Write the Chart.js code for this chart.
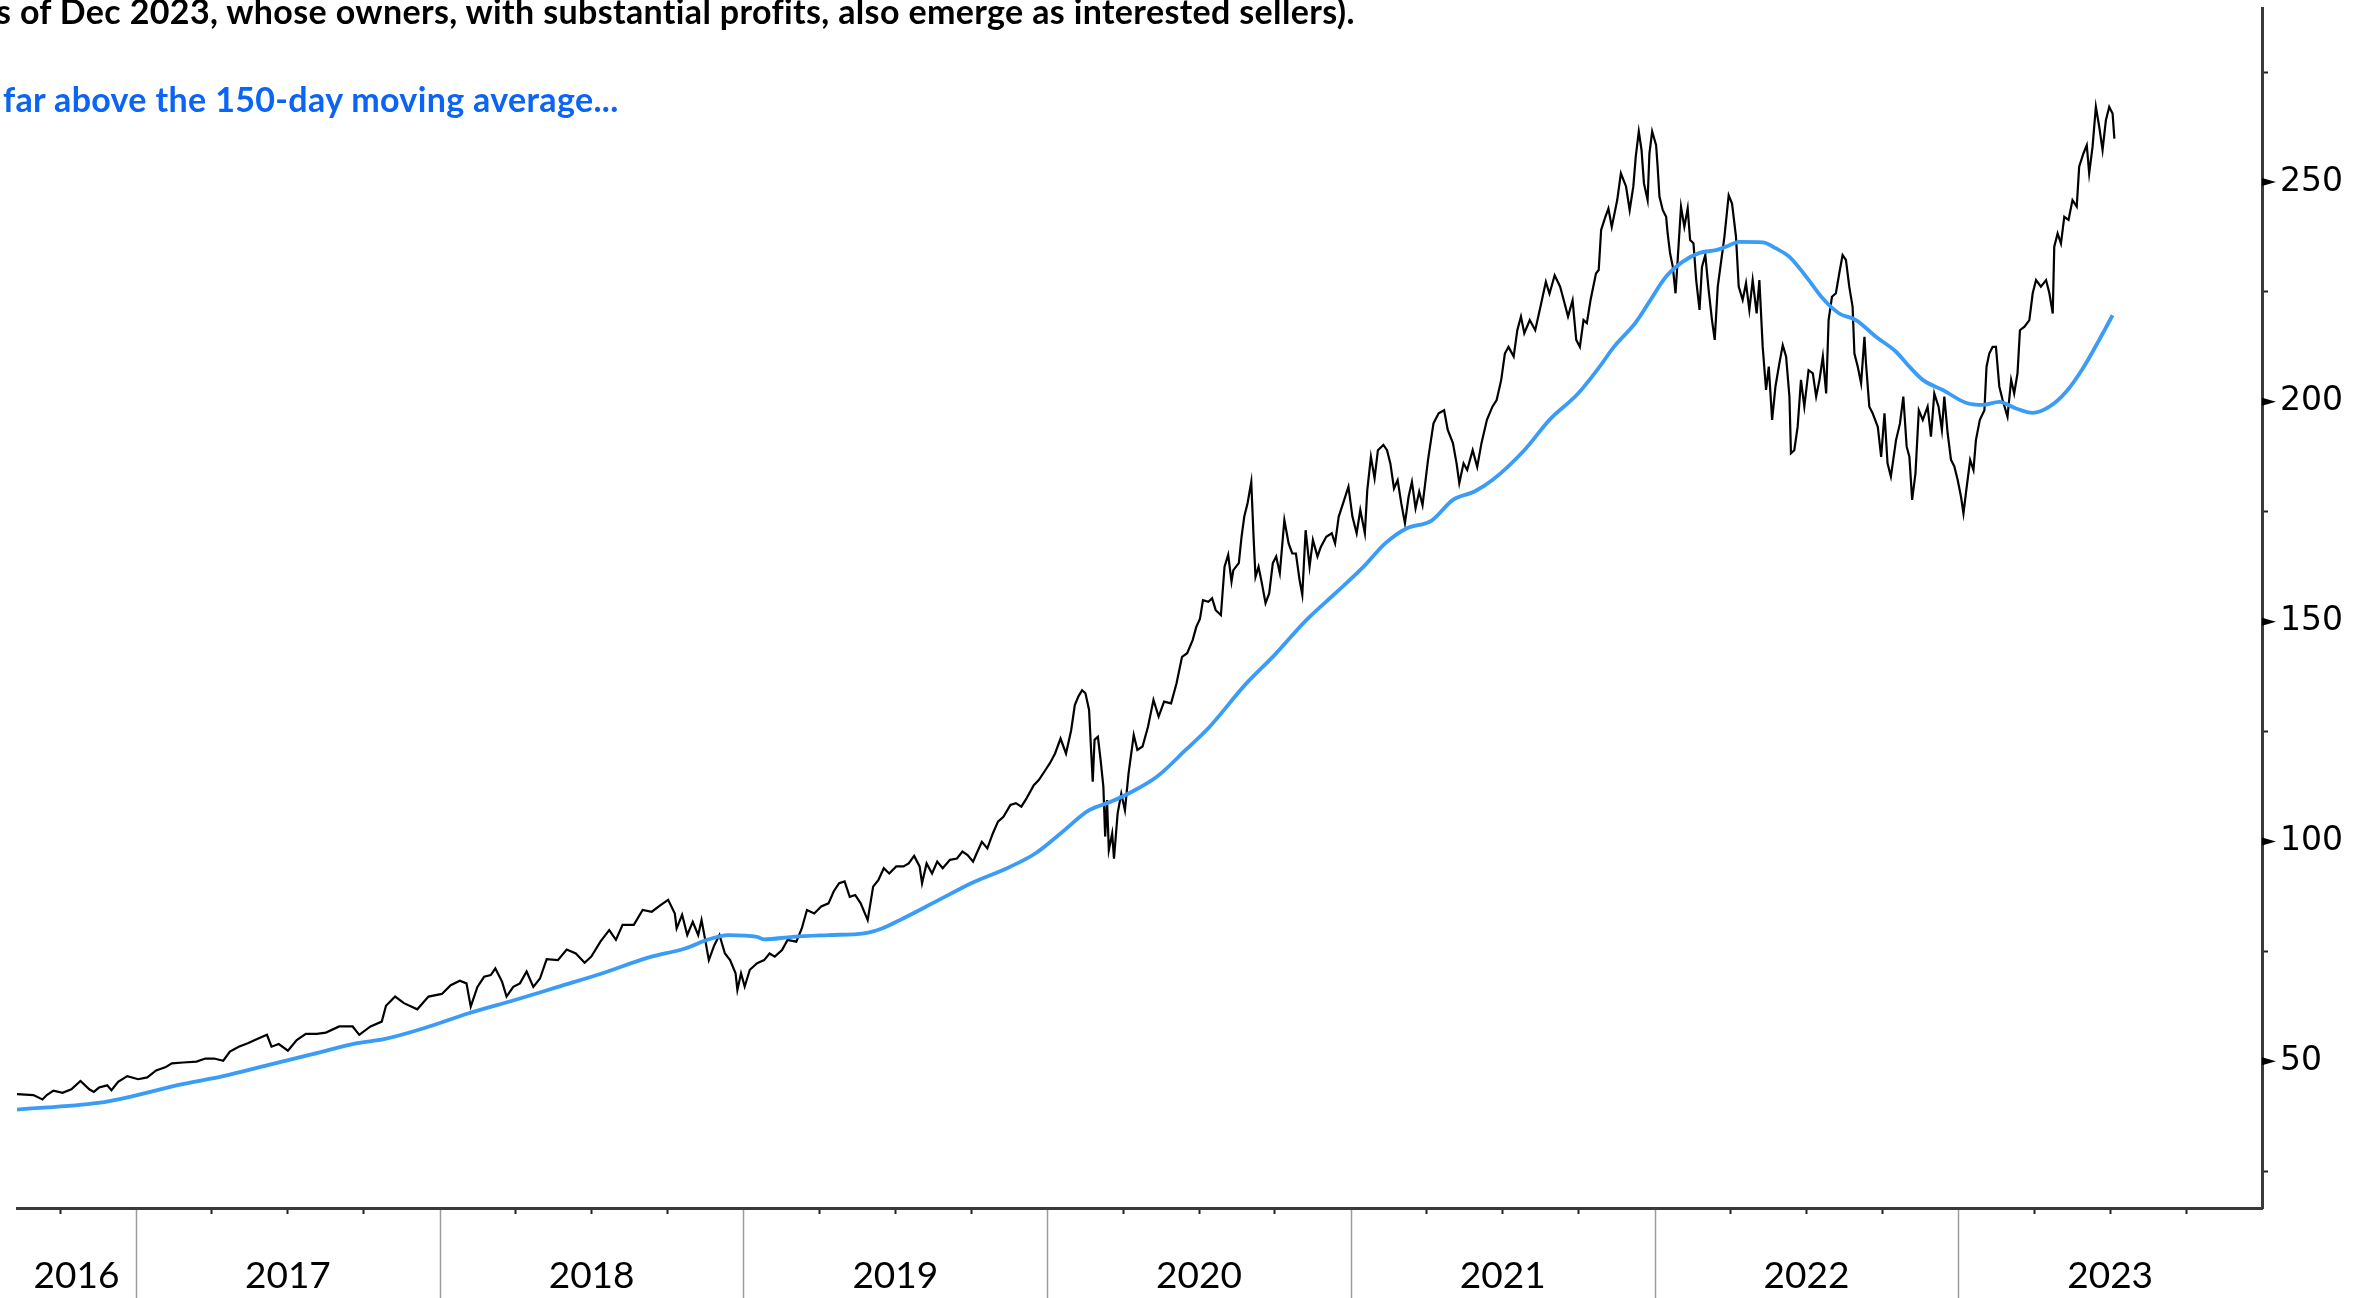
<!DOCTYPE html>
<html>
<head>
<meta charset="utf-8">
<script src="https://cdn.jsdelivr.net/npm/chart.js@4.4.0/dist/chart.umd.min.js"></script>
<style>
  html, body { margin: 0; padding: 0; background: #fff; }
  #wrap { position: relative; width: 2368px; height: 1298px; overflow: hidden; }
  #chart { position: absolute; left: 0; top: 0; }
  .note { position: absolute; font-family: Lato, sans-serif; font-weight: 700; font-size: 34px; letter-spacing: 0.35px; line-height: 1; white-space: nowrap; }
  #note1 { left: -4px; top: -6px; color: #000; }
  #note2 { left: 3px; top: 82px; color: #0a64f5; }
</style>
</head>
<body>
<div id="wrap">
  <canvas id="chart" width="2368" height="1298"></canvas>
  <div class="note" id="note1">s of Dec 2023, whose owners, with substantial profits, also emerge as interested sellers).</div>
  <div class="note" id="note2">far above the 150-day moving average...</div>
</div>
<script>
// dates are fractional years
const priceDates = [
  2016.608, 2016.662, 2016.692, 2016.706, 2016.728, 2016.758, 2016.787, 2016.817, 2016.846, 2016.861, 2016.878, 2016.905, 2016.919, 2016.941, 2016.971,
  2017.007, 2017.037, 2017.066, 2017.096, 2017.118, 2017.155, 2017.199, 2017.228, 2017.257, 2017.287, 2017.309, 2017.338, 2017.368, 2017.397, 2017.431,
  2017.446, 2017.470, 2017.500, 2017.529, 2017.559, 2017.595, 2017.625, 2017.669, 2017.713, 2017.735, 2017.772, 2017.809, 2017.823, 2017.853, 2017.882,
  2017.926, 2017.963,
  2018.007, 2018.036, 2018.066, 2018.088, 2018.102, 2018.124, 2018.146, 2018.168, 2018.183, 2018.205, 2018.220, 2018.242, 2018.264, 2018.286, 2018.308,
  2018.330, 2018.352, 2018.389, 2018.418, 2018.448, 2018.477, 2018.499, 2018.529, 2018.558, 2018.580, 2018.602, 2018.639, 2018.668, 2018.698, 2018.727,
  2018.752, 2018.774, 2018.780, 2018.798, 2018.815, 2018.833, 2018.851, 2018.862, 2018.874, 2018.886, 2018.904, 2018.921, 2018.939, 2018.956, 2018.974,
  2018.980, 2018.992,
  2019.004, 2019.021, 2019.045, 2019.068, 2019.086, 2019.103, 2019.127, 2019.145, 2019.174, 2019.192, 2019.209, 2019.233, 2019.256, 2019.280, 2019.297,
  2019.315, 2019.333, 2019.350, 2019.368, 2019.386, 2019.409, 2019.427, 2019.444, 2019.462, 2019.480, 2019.503, 2019.527, 2019.544, 2019.562, 2019.580,
  2019.588, 2019.603, 2019.621, 2019.638, 2019.656, 2019.680, 2019.703, 2019.721, 2019.738, 2019.756, 2019.768, 2019.785, 2019.803, 2019.821, 2019.838,
  2019.856, 2019.879, 2019.897, 2019.915, 2019.932, 2019.956, 2019.973, 2019.991,
  2020.009, 2020.026, 2020.044, 2020.062, 2020.079, 2020.091, 2020.103, 2020.115, 2020.126, 2020.138, 2020.144, 2020.150, 2020.156, 2020.167, 2020.176,
  2020.185, 2020.191, 2020.197, 2020.203, 2020.214, 2020.220, 2020.232, 2020.244, 2020.256, 2020.268, 2020.285, 2020.297, 2020.314, 2020.332, 2020.350,
  2020.367, 2020.385, 2020.408, 2020.426, 2020.444, 2020.461, 2020.479, 2020.491, 2020.503, 2020.513, 2020.531, 2020.543, 2020.555, 2020.572, 2020.584,
  2020.596, 2020.607, 2020.613, 2020.631, 2020.640, 2020.649, 2020.660, 2020.672, 2020.680, 2020.686, 2020.696, 2020.707, 2020.719, 2020.731, 2020.743,
  2020.754, 2020.766, 2020.781, 2020.795, 2020.807, 2020.819, 2020.831, 2020.840, 2020.851, 2020.864, 2020.875, 2020.890, 2020.901, 2020.919, 2020.937,
  2020.948, 2020.960, 2020.978, 2020.992,
  2021.005, 2021.019, 2021.031, 2021.046, 2021.054, 2021.066, 2021.078, 2021.089, 2021.107, 2021.119, 2021.130, 2021.142, 2021.154, 2021.166, 2021.178,
  2021.190, 2021.201, 2021.213, 2021.225, 2021.236, 2021.254, 2021.272, 2021.289, 2021.307, 2021.319, 2021.336, 2021.348, 2021.357, 2021.371, 2021.383,
  2021.401, 2021.416, 2021.430, 2021.448, 2021.466, 2021.480, 2021.495, 2021.507, 2021.519, 2021.536, 2021.548, 2021.560, 2021.571, 2021.589, 2021.607,
  2021.624, 2021.642, 2021.654, 2021.671, 2021.689, 2021.701, 2021.715, 2021.730, 2021.742, 2021.754, 2021.766, 2021.777, 2021.789, 2021.807, 2021.816,
  2021.824, 2021.836, 2021.848, 2021.859, 2021.877, 2021.889, 2021.906, 2021.918, 2021.930, 2021.938, 2021.948, 2021.957, 2021.965, 2021.977, 2021.983,
  2021.992,
  2022.005, 2022.010, 2022.016, 2022.027, 2022.038, 2022.043, 2022.051, 2022.060, 2022.069, 2022.076, 2022.087, 2022.098, 2022.109, 2022.117, 2022.128,
  2022.137, 2022.148, 2022.156, 2022.167, 2022.178, 2022.189, 2022.198, 2022.208, 2022.219, 2022.230, 2022.244, 2022.255, 2022.268, 2022.277, 2022.290,
  2022.301, 2022.312, 2022.323, 2022.336, 2022.345, 2022.356, 2022.367, 2022.376, 2022.387, 2022.398, 2022.411, 2022.422, 2022.433, 2022.444, 2022.449,
  2022.460, 2022.471, 2022.482, 2022.493, 2022.507, 2022.521, 2022.532, 2022.543, 2022.554, 2022.565, 2022.573, 2022.584, 2022.597, 2022.608, 2022.619,
  2022.630, 2022.641, 2022.652, 2022.658, 2022.669, 2022.680, 2022.691, 2022.696, 2022.707, 2022.718, 2022.735, 2022.746, 2022.757, 2022.767, 2022.778,
  2022.795, 2022.808, 2022.819, 2022.830, 2022.839, 2022.848, 2022.859, 2022.870, 2022.883, 2022.899, 2022.910, 2022.921, 2022.935, 2022.946, 2022.954,
  2022.965, 2022.976, 2022.987, 2022.998,
  2023.009, 2023.017, 2023.025, 2023.039, 2023.050, 2023.058, 2023.071, 2023.086, 2023.093, 2023.102, 2023.113, 2023.124, 2023.135, 2023.146, 2023.162,
  2023.174, 2023.184, 2023.195, 2023.203, 2023.218, 2023.234, 2023.245, 2023.256, 2023.272, 2023.289, 2023.300, 2023.311, 2023.316, 2023.327, 2023.338,
  2023.349, 2023.363, 2023.376, 2023.390, 2023.398, 2023.412, 2023.423, 2023.431, 2023.442, 2023.453, 2023.464, 2023.475, 2023.486, 2023.497, 2023.508,
  2023.514
];
const priceValues = [
  42.5, 42.3, 41.3, 42.3, 43.3, 42.8, 43.6, 45.5, 43.6, 43.0, 44.0, 44.5, 43.4, 45.3, 46.6,
  45.9, 46.3, 47.9, 48.6, 49.5, 49.7, 49.9, 50.6, 50.6, 50.1, 52.2, 53.3, 54.1, 55.0, 56.0,
  53.3, 53.9, 52.4, 54.8, 56.2, 56.2, 56.5, 57.9, 57.9, 56.0, 57.9, 59.0, 62.6, 64.7, 63.2,
  61.8, 64.7,
  65.3, 67.3, 68.3, 67.7, 62.4, 66.9, 69.2, 69.6, 71.1, 68.1, 64.7, 66.9, 67.7, 70.4, 66.9,
  68.8, 73.2, 73.0, 75.4, 74.5, 72.4, 73.8, 77.2, 79.8, 77.6, 81.0, 81.0, 84.4, 84.0, 85.5,
  86.7, 83.6, 80.2, 83.3, 78.7, 81.7, 78.7, 82.1, 77.6, 73.0, 76.4, 78.7, 74.5, 73.0, 70.0,
  66.2, 70.0,
  67.0, 70.8, 72.3, 73.0, 74.5, 73.8, 75.3, 77.6, 77.2, 80.2, 84.4, 83.6, 85.2, 85.9, 88.6,
  90.5, 90.9, 87.4, 87.8, 85.9, 82.1, 89.7, 91.2, 93.9, 92.7, 94.3, 94.3, 95.0, 96.7, 94.3,
  90.5, 95.0, 92.7, 95.4, 93.9, 95.8, 96.1, 97.7, 96.9, 95.4, 97.3, 99.9, 98.4, 101.8, 104.5,
  105.6, 108.3, 108.7, 107.9, 109.8, 112.8, 114.0, 115.9,
  117.8, 120.0, 123.4, 120.0, 125.3, 131.0, 133.0, 134.4, 133.7, 129.9, 121.6, 113.6, 123.1, 123.8, 118.5,
  112.5, 101.1, 109.4, 98.0, 101.8, 96.1, 106.4, 110.9, 107.1, 115.5, 124.2, 120.8, 121.6, 126.1, 132.2,
  128.4, 131.8, 131.4, 136.0, 142.0, 142.8, 145.8, 148.8, 150.6, 154.9, 154.5, 155.3, 152.6, 151.5, 162.5,
  165.2, 159.1, 161.7, 163.3, 169.3, 173.9, 177.0, 181.8, 168.6, 160.2, 162.5, 158.7, 154.2, 156.4, 163.3,
  164.8, 161.0, 173.1, 167.8, 165.5, 165.5, 159.5, 156.1, 170.8, 162.5, 168.6, 164.8, 167.0, 169.3, 170.1,
  167.8, 173.9, 177.7, 180.7,
  173.9, 170.1, 175.4, 170.1, 179.9, 187.5, 182.6, 189.0, 190.2, 189.0, 186.0, 180.3, 182.2, 176.9, 172.4,
  178.4, 181.8, 175.8, 179.6, 176.5, 186.8, 195.1, 197.4, 198.1, 193.6, 190.6, 186.0, 181.5, 186.0, 184.5,
  189.0, 185.2, 190.6, 195.9, 198.9, 200.4, 205.0, 211.0, 212.5, 210.3, 216.3, 219.4, 215.6, 218.6, 216.3,
  221.6, 227.3, 224.6, 228.8, 226.2, 223.1, 219.4, 223.1, 214.1, 212.5, 218.6, 217.9, 223.1, 229.2, 230.0,
  239.1, 241.7, 244.0, 239.8, 245.9, 252.0, 249.0, 243.6, 249.0, 255.8, 261.5, 257.3, 249.7, 245.9, 256.5,
  261.5,
  258.4, 253.5, 246.7, 243.6, 242.1, 238.3, 233.8, 230.7, 224.7, 232.3, 244.4, 239.8, 244.0, 236.8, 236.1,
  227.7, 220.9, 230.7, 233.4, 225.4, 218.6, 214.1, 226.2, 231.9, 237.6, 247.0, 245.1, 237.6, 226.2, 223.2,
  227.0, 220.9, 227.7, 220.1, 227.7, 212.5, 202.7, 208.0, 195.9, 203.5, 208.8, 212.9, 210.3, 201.2, 188.3,
  189.0, 194.3, 205.0, 198.9, 207.2, 206.5, 201.2, 205.0, 210.3, 201.9, 218.6, 223.9, 224.7, 229.2, 233.4,
  232.3, 226.2, 221.6, 211.0, 208.0, 204.2, 214.8, 208.8, 198.9, 197.4, 194.3, 187.5, 197.4, 186.0, 183.0,
  191.3, 195.1, 201.2, 189.8, 187.5, 177.7, 183.7, 198.1, 195.9, 198.9, 192.1, 201.9, 198.9, 193.6, 201.2,
  192.8, 186.8, 185.3, 182.2,
  178.4, 174.6, 179.2, 186.8, 184.5, 191.3, 195.9, 198.1, 208.0, 211.0, 212.5, 212.5, 203.5, 200.4, 196.6,
  205.0, 201.9, 206.5, 216.3, 217.1, 218.6, 224.7, 227.7, 226.2, 227.7, 224.7, 220.1, 235.3, 238.3, 236.0,
  242.1, 241.4, 245.9, 244.4, 253.5, 256.5, 258.4, 252.0, 258.0, 267.1, 262.6, 257.3, 264.1, 267.1, 265.6,
  259.9
];

// 150-day moving average
const maDates = [
  2016.608, 2016.875, 2016.993, 2017.140, 2017.287, 2017.434, 2017.581, 2017.728, 2017.816, 2017.948,
  2018.095, 2018.242, 2018.389, 2018.536, 2018.683, 2018.810, 2018.880, 2018.951, 2019.045, 2019.068,
  2019.162, 2019.280, 2019.397, 2019.456, 2019.515, 2019.633, 2019.750, 2019.868, 2019.962, 2020.044,
  2020.138, 2020.209, 2020.279, 2020.361, 2020.456, 2020.535, 2020.650, 2020.750, 2020.854, 2020.948,
  2021.042, 2021.113, 2021.183, 2021.266, 2021.336, 2021.407, 2021.466, 2021.571, 2021.654, 2021.748,
  2021.819, 2021.866, 2021.936, 2021.983, 2022.038, 2022.093, 2022.148, 2022.202, 2022.235, 2022.279,
  2022.356, 2022.400, 2022.444, 2022.499, 2022.554, 2022.608, 2022.663, 2022.729, 2022.795, 2022.839,
  2022.883, 2022.949, 2023.025, 2023.080, 2023.135, 2023.190, 2023.245, 2023.300, 2023.355, 2023.410,
  2023.464, 2023.508
];
const maValues = [
  39.0, 40.5, 42.1, 44.6, 46.6, 49.1, 51.6, 54.1, 55.0, 57.5,
  60.9, 63.8, 66.9, 70.0, 73.5, 75.7, 77.6, 78.7, 78.3, 77.7,
  78.3, 78.7, 79.1, 80.2, 82.1, 86.3, 90.5, 93.9, 97.3, 101.8,
  107.1, 109.0, 111.3, 114.7, 120.8, 126.1, 135.5, 142.5, 150.4, 156.4,
  162.5, 167.8, 171.2, 173.0, 177.7, 179.6, 182.2, 189.0, 195.9, 201.9,
  208.0, 212.5, 217.9, 222.8, 228.5, 231.9, 233.9, 234.5, 235.3, 236.4,
  236.3, 234.9, 233.0, 228.5, 223.5, 220.1, 218.6, 214.8, 211.4, 208.0,
  205.0, 202.7, 199.8, 199.3, 200.0, 198.5, 197.5, 198.9, 202.3, 207.6,
  214.1, 219.7
];

const yearLabels = ['2016', '2017', '2018', '2019', '2020', '2021', '2022', '2023'];
const yTickValues = [25, 50, 75, 100, 125, 150, 175, 200, 225, 250, 275];
const yLabelValues = [50, 100, 150, 200, 250];

const X_MIN = 2016.608, X_MAX = 2024.0;
const Y_MIN = 16.6, Y_MAX = 289.6;

// year label sits in the middle of the visible part of its year
function yearLabelPos(i) {
  const yr = +yearLabels[i];
  return (Math.max(yr, X_MIN) + Math.min(yr + 1, X_MAX)) / 2;
}
function isQuarter(v) {
  const q = v * 4;
  return Math.abs(q - Math.round(q)) < 1e-6;
}
function isYearStart(v) {
  return Math.abs(v - Math.round(v)) < 1e-6;
}

// gray year separators below the axis, and black pointers on the labelled y ticks
const axisMarks = {
  id: 'axisMarks',
  afterDraw(chart) {
    const { ctx, scales: { x, y } } = chart;
    ctx.save();
    ctx.strokeStyle = '#9c9c9c';
    ctx.lineWidth = 1.5;
    for (let yr = Math.ceil(X_MIN); yr < X_MAX; yr++) {
      const px = Math.round(x.getPixelForValue(yr)) + 0.5;
      ctx.beginPath();
      ctx.moveTo(px, x.top + 2);
      ctx.lineTo(px, chart.height);
      ctx.stroke();
    }
    ctx.fillStyle = '#000';
    yLabelValues.forEach(v => {
      const py = y.getPixelForValue(v);
      ctx.beginPath();
      ctx.moveTo(y.left, py - 4);
      ctx.lineTo(y.left + 14, py);
      ctx.lineTo(y.left, py + 4);
      ctx.closePath();
      ctx.fill();
    });
    ctx.restore();
  }
};

new Chart(document.getElementById('chart'), {
  type: 'line',
  data: {
    datasets: [
      {
        label: '150-day moving average',
        data: maDates.map((d, i) => ({ x: d, y: maValues[i] })),
        borderColor: '#3a9cf6',
        borderWidth: 3.8,
        pointRadius: 0,
        cubicInterpolationMode: 'monotone',
        order: 0
      },
      {
        label: 'Price',
        data: priceDates.map((d, i) => ({ x: d, y: priceValues[i] })),
        borderColor: '#000',
        borderWidth: 2.2,
        pointRadius: 0,
        tension: 0,
        order: 1
      }
    ]
  },
  options: {
    responsive: false,
    animation: false,
    devicePixelRatio: 1,
    events: [],
    layout: { padding: { left: 17, top: 8, right: 0, bottom: 0 } },
    plugins: { legend: { display: false }, tooltip: { enabled: false } },
    scales: {
      x: {
        type: 'linear',
        min: X_MIN,
        max: X_MAX,
        afterBuildTicks: scale => {
          const vals = [];
          for (let q = Math.ceil(X_MIN * 4) / 4; q < X_MAX - 0.001; q += 0.25) vals.push(q);
          yearLabels.forEach((_, i) => {
            const p = yearLabelPos(i);
            if (!vals.some(v => Math.abs(v - p) < 1e-6)) vals.push(p);
          });
          vals.sort((a, b) => a - b);
          scale.ticks = vals.map(v => ({ value: v }));
        },
        afterFit: scale => {
          scale.height = 90;
          scale.paddingLeft = 0;
          scale.paddingRight = 0;
        },
        grid: {
          drawOnChartArea: false,
          tickLength: 6,
          tickWidth: 2,
          tickColor: ctx => {
            const v = ctx.tick.value;
            if (isYearStart(v) || !isQuarter(v)) return 'rgba(0,0,0,0)';
            return '#222';
          }
        },
        border: { display: true, color: '#3a3a3a', width: 3 },
        ticks: {
          autoSkip: false,
          maxRotation: 0,
          padding: 40,
          color: '#000',
          font: { family: 'Lato', size: 37 },
          callback: value => {
            const i = yearLabels.findIndex((_, k) => Math.abs(yearLabelPos(k) - value) < 1e-6);
            return i >= 0 ? yearLabels[i] : '';
          }
        }
      },
      y: {
        type: 'linear',
        position: 'right',
        min: Y_MIN,
        max: Y_MAX,
        afterBuildTicks: scale => { scale.ticks = yTickValues.map(v => ({ value: v })); },
        afterFit: scale => {
          scale.width = 106;
          scale.paddingTop = 0;
          scale.paddingBottom = 0;
        },
        grid: {
          drawOnChartArea: false,
          tickLength: 6,
          tickWidth: 2,
          tickColor: ctx => yLabelValues.includes(ctx.tick.value) ? 'rgba(0,0,0,0)' : '#222'
        },
        border: { display: true, color: '#3a3a3a', width: 3 },
        ticks: {
          padding: 12,
          color: '#000',
          font: { family: 'DejaVu Sans', size: 33 },
          callback: value => yLabelValues.includes(value) ? String(value) : ''
        }
      }
    }
  },
  plugins: [axisMarks]
});
</script>
</body>
</html>
